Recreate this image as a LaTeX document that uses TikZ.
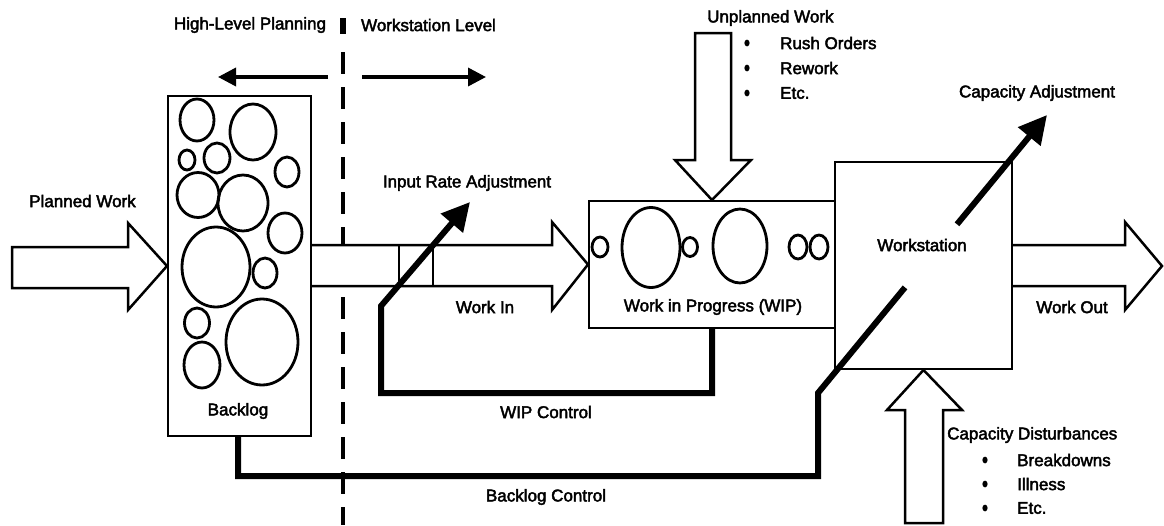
\documentclass[tikz,border=0pt]{standalone}
\usepackage{fontspec}
\newfontfamily\lab{Liberation Sans}[BoldFont=Liberation Sans,BoldFeatures={FakeBold=2.5}]
\usetikzlibrary{arrows.meta,calc}
\begin{document}
\begin{tikzpicture}[x=1pt,y=-1pt,
  txt/.style={inner sep=0pt,font=\lab\bfseries\fontsize{17}{20}\selectfont},
  box/.style={draw,line width=2pt,fill=white,inner sep=0pt},
  blk/.style={draw,line width=2.5pt,line join=miter,fill=white},
  circ/.style={draw,line width=2.8pt},
  ctrl/.style={draw,line width=6pt,line join=miter},
  valve/.style={draw,line width=1.8pt},
  toparr/.style={draw,line width=3.5pt,-{Triangle[length=18pt,width=18pt]}},
  adjtip/.style={-{Triangle[length=28pt,width=28pt]}},
  divider/.style={draw,line width=4.5pt,dash pattern=on 22pt off 13pt},
  bul/.style={fill}
]
\useasboundingbox (0,0) rectangle (1164,525);
\fill[white] (0,0) rectangle (1164,525);

% title
\node[txt] (hlp) at (250,25) {High-Level Planning};
\node[txt] (wsl) at (428.5,25) {Workstation Level};
\fill (340,18) rectangle (346,34);
\coordinate (lt) at (328,77); \coordinate (lh) at (218,77);
\coordinate (rt) at (362,77); \coordinate (rh) at (486,77);
\draw[toparr] (lt) -- (lh);
\draw[toparr] (rt) -- (rh);

% boxes
\node[box,minimum width=143pt,minimum height=340pt] (backlog) at (239.5,266) {};
\node[box,minimum width=246pt,minimum height=127pt] (wip) at (712,264.5) {};
\node[box,minimum width=177pt,minimum height=207pt] (ws) at (923.5,265.5) {};

% dashed divider
\coordinate (dtop) at (343,52); \coordinate (dbot) at (343,525);
\draw[divider] (dtop) -- (dbot);

% backlog circles
\draw[circ] (197,120) ellipse [x radius=17pt,y radius=21pt];
\draw[circ] (253,132) ellipse [x radius=23pt,y radius=28pt];
\draw[circ] (187,160) ellipse [x radius=8pt,y radius=10pt];
\draw[circ] (217,158) ellipse [x radius=13pt,y radius=15pt];
\draw[circ] (287,172) ellipse [x radius=12pt,y radius=15pt];
\draw[circ] (198,195) ellipse [x radius=21pt,y radius=22.5pt];
\draw[circ] (243,203) ellipse [x radius=25pt,y radius=28pt];
\draw[circ] (285,233) ellipse [x radius=17pt,y radius=20pt];
\draw[circ] (216,267) ellipse [x radius=34pt,y radius=40pt];
\draw[circ] (265,273) ellipse [x radius=12pt,y radius=15pt];
\draw[circ] (197,323) ellipse [x radius=12.5pt,y radius=15pt];
\draw[circ] (202,365) ellipse [x radius=18pt,y radius=23pt];
\draw[circ] (262,342) ellipse [x radius=36pt,y radius=43pt];
\node[txt] (bltxt) at (238,411) {Backlog};

% WIP circles
\draw[circ] (600,247) ellipse [x radius=8pt,y radius=10pt];
\draw[circ] (651,247.5) ellipse [x radius=29pt,y radius=40pt];
\draw[circ] (690,247) ellipse [x radius=7.5pt,y radius=9.5pt];
\draw[circ] (740,246) ellipse [x radius=27pt,y radius=37pt];
\draw[circ] (798,247) ellipse [x radius=9pt,y radius=12pt];
\draw[circ] (819,247) ellipse [x radius=9pt,y radius=12pt];
\node[txt] (wiptxt) at (713,307) {Work in Progress (WIP)};

% planned work arrow
\draw[blk] (12,247) -- (128,247) -- (128,223) -- (backlog.west) -- (128,310) -- (128,288) -- (12,288) -- cycle;
\node[txt] (pw) at (82.5,201) {Planned Work};

% input arrow
\draw[blk] (backlog.east |- 0,245) -- (552,245) -- (552,222) -- (wip.west) -- (552,310) -- (552,286) -- (backlog.east |- 0,286);
\draw[valve] (399,245) -- (399,286);
\draw[valve] (433,245) -- (433,286);
\node[txt] (workin) at (485,307) {Work In};

% work out arrow
\draw[blk] (ws.east |- 0,245) -- (1125,245) -- (1125,222) -- (1162,266) -- (1125,310) -- (1125,286) -- (ws.east |- 0,286);
\node[txt] (workout) at (1072,307) {Work Out};

% unplanned work arrow
\draw[blk] (695,33) -- (731,33) -- (731,160) -- (751,160) -- (wip.north) -- (675,160) -- (695,160) -- cycle;
\node[txt,anchor=west] (uw) at (707,18) {Unplanned Work};
\fill[bul] (747,43) ellipse [x radius=2.6pt,y radius=3.4pt];
\fill[bul] (747,68) ellipse [x radius=2.6pt,y radius=3.4pt];
\fill[bul] (747,93) ellipse [x radius=2.6pt,y radius=3.4pt];
\node[txt,anchor=west] (uw1) at (780,43) {Rush Orders};
\node[txt,anchor=west] (uw2) at (780,68) {Rework};
\node[txt,anchor=west] (uw3) at (780,93) {Etc.};

% capacity disturbances arrow
\draw[blk] (905,523) -- (905,410) -- (887,410) -- (ws.south) -- (962,410) -- (943,410) -- (943,523) -- cycle;
\node[txt,anchor=west] (cd) at (947,435) {Capacity Disturbances};
\fill[bul] (985,460) ellipse [x radius=2.6pt,y radius=3.4pt];
\fill[bul] (985,484) ellipse [x radius=2.6pt,y radius=3.4pt];
\fill[bul] (985,508) ellipse [x radius=2.6pt,y radius=3.4pt];
\node[txt,anchor=west] (cd1) at (1017,460) {Breakdowns};
\node[txt,anchor=west] (cd2) at (1017,484) {Illness};
\node[txt,anchor=west] (cd3) at (1017,508) {Etc.};

% WIP control
\coordinate (wc1) at (712,393);
\coordinate (wc2) at (381,393);
\coordinate (wc3) at (381,306);
\coordinate (iratip) at (470,202);
\draw[ctrl,adjtip] (wip.south -| 712,0) -- (wc1) -- (wc2) -- (wc3) -- (iratip);
\node[txt] (wipc) at (546,412) {WIP Control};
\node[txt] (ira) at (467,183) {Input Rate Adjustment};

% backlog control
\coordinate (bc1) at (238,476);
\coordinate (bc2) at (818,476);
\coordinate (bc3) at (818,393);
\coordinate (bc4) at (905,287.4);
\coordinate (bc5) at (957,224.3);
\coordinate (catip) at (1047,115);
\draw[ctrl] (backlog.south -| 238,0) -- (bc1) -- (bc2) -- (bc3) -- (bc4);
\draw[ctrl,adjtip] (bc5) -- (catip);
\node[txt] (blc) at (546,497) {Backlog Control};
\node[txt] (ca) at (1037,93) {Capacity Adjustment};
\node[txt] (wstxt) at (922,245) {Workstation};
\end{tikzpicture}
\end{document}
